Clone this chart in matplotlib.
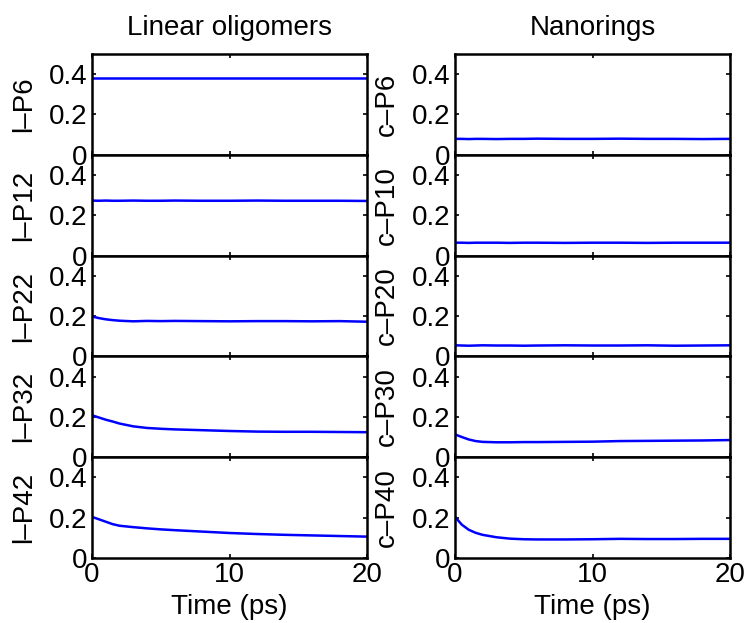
import numpy as np
import matplotlib
matplotlib.use('Agg')
import matplotlib.pyplot as plt

plt.rcParams['font.family'] = ['Liberation Sans', 'DejaVu Sans']

# time axis (ps)
t = [0, 0.5, 1, 1.5, 2, 3, 4, 5, 6, 8, 10, 12, 14, 16, 18, 20]

# left column: linear oligomers
linear_names = ['l–P6', 'l–P12', 'l–P22', 'l–P32', 'l–P42']
l_p6 = [0.383, 0.383, 0.383, 0.383, 0.383, 0.383, 0.383, 0.383, 0.383, 0.383, 0.383, 0.383, 0.383, 0.383, 0.383, 0.383]
l_p12 = [0.273, 0.272, 0.273, 0.272, 0.272, 0.273, 0.272, 0.272, 0.273, 0.272, 0.272, 0.273, 0.272, 0.272, 0.272, 0.271]
l_p22 = [0.198, 0.190, 0.184, 0.180, 0.177, 0.174, 0.176, 0.175, 0.176, 0.175, 0.174, 0.175, 0.175, 0.174, 0.175, 0.172]
l_p32 = [0.208, 0.197, 0.186, 0.177, 0.167, 0.153, 0.145, 0.141, 0.138, 0.134, 0.130, 0.127, 0.126, 0.126, 0.125, 0.124]
l_p42 = [0.204, 0.192, 0.180, 0.168, 0.160, 0.153, 0.147, 0.142, 0.138, 0.131, 0.124, 0.119, 0.115, 0.112, 0.109, 0.106]

# right column: nanorings
ring_names = ['c–P6', 'c–P10', 'c–P20', 'c–P30', 'c–P40']
c_p6 = [0.079, 0.079, 0.078, 0.079, 0.079, 0.078, 0.079, 0.079, 0.080, 0.079, 0.079, 0.080, 0.079, 0.079, 0.078, 0.079]
c_p10 = [0.064, 0.064, 0.063, 0.064, 0.064, 0.064, 0.063, 0.064, 0.064, 0.063, 0.064, 0.064, 0.063, 0.064, 0.064, 0.064]
c_p20 = [0.055, 0.054, 0.053, 0.054, 0.055, 0.054, 0.054, 0.053, 0.054, 0.055, 0.054, 0.054, 0.055, 0.053, 0.054, 0.055]
c_p30 = [0.113, 0.100, 0.088, 0.080, 0.076, 0.074, 0.074, 0.075, 0.075, 0.076, 0.077, 0.080, 0.081, 0.082, 0.083, 0.085]
c_p40 = [0.204, 0.165, 0.140, 0.125, 0.115, 0.103, 0.096, 0.093, 0.092, 0.092, 0.093, 0.095, 0.094, 0.094, 0.095, 0.095]

linear = [l_p6, l_p12, l_p22, l_p32, l_p42]
rings = [c_p6, c_p10, c_p20, c_p30, c_p40]

W, H = 748, 623
fig = plt.figure(figsize=(W / 100, H / 100), dpi=100)

ax_top, ax_bot = 54, 558
ph = (ax_bot - ax_top) / 5.0
cols = [(92, linear, linear_names, 'Linear oligomers'),
        (455, rings, ring_names, 'Nanorings')]

for x0, series, names, title in cols:
    for i in range(5):
        y_top = ax_top + i * ph
        ax = fig.add_axes([x0 / W, 1 - (y_top + ph) / H, 275 / W, ph / H])
        ax.plot(t, series[i], color='#0000ff', lw=1.8)
        ax.set_xlim(0, 20)
        ax.set_ylim(0, 0.5)
        ax.set_yticks([0, 0.2, 0.4])
        ax.set_yticklabels(['0', '0.2', '0.4'])
        ax.set_xticks([0, 10, 20])
        ax.tick_params(direction='in', length=3, width=1.2, top=True, right=True,
                       labelsize=20, pad=3)
        for s in ax.spines.values():
            s.set_linewidth(1.8)
        ax.set_ylabel(names[i], fontsize=20, labelpad=9)
        if i < 4:
            ax.set_xticklabels([])
        else:
            ax.set_xlabel('Time (ps)', fontsize=20, labelpad=4)
        if i == 0:
            ax.set_title(title, fontsize=20, pad=14)

fig.savefig('out.png', dpi=100)
